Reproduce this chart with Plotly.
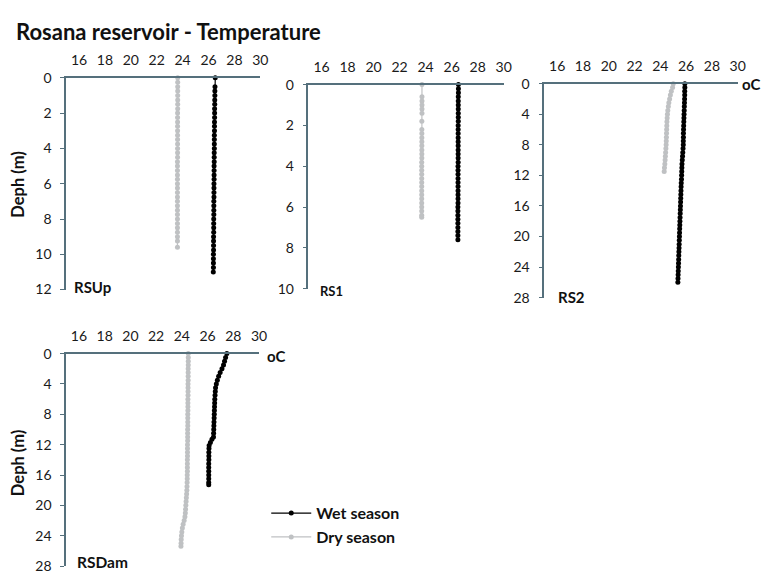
import plotly.graph_objects as go

# ---------------- data ----------------
# RSUp
rsup_wet_depth = [0, 0.5, 0.75, 1.0, 1.25, 1.5, 1.75, 2.0, 2.25, 2.5, 2.75, 3.0, 3.25, 3.5, 3.75,
                  4.0, 4.25, 4.5, 4.75, 5.0, 5.25, 5.5, 5.75, 6.0, 6.25, 6.5, 6.75, 7.0, 7.25, 7.5,
                  7.75, 8.0, 8.25, 8.5, 8.75, 9.0, 9.25, 9.5, 9.75, 10.0, 10.25, 10.5, 10.75, 11.0]
rsup_wet_temp = [26.52, 26.50, 26.49, 26.49, 26.48, 26.48, 26.47, 26.47, 26.47, 26.46, 26.46, 26.46, 26.45, 26.45, 26.45,
                 26.45, 26.44, 26.44, 26.44, 26.43, 26.43, 26.43, 26.43, 26.42, 26.42, 26.42, 26.42, 26.41, 26.41, 26.41,
                 26.41, 26.40, 26.40, 26.40, 26.40, 26.39, 26.39, 26.39, 26.39, 26.38, 26.38, 26.38, 26.38, 26.37]
rsup_dry_depth = [0, 0.25, 0.5, 0.75, 1.0, 1.25, 1.5, 1.75, 2.0, 2.25, 2.5, 2.75, 3.0, 3.25, 3.5,
                  3.75, 4.0, 4.25, 4.5, 4.75, 5.0, 5.25, 5.5, 5.75, 6.0, 6.25, 6.5, 6.75, 7.0, 7.25,
                  7.5, 7.75, 8.0, 8.25, 8.5, 8.75, 9.0, 9.25, 9.6]
rsup_dry_temp = [23.62, 23.62, 23.62, 23.62, 23.62, 23.62, 23.62, 23.62, 23.61, 23.61, 23.61, 23.61, 23.61, 23.61, 23.61,
                 23.61, 23.61, 23.61, 23.61, 23.60, 23.60, 23.60, 23.60, 23.60, 23.60, 23.60, 23.60, 23.60, 23.60, 23.60,
                 23.60, 23.60, 23.60, 23.60, 23.60, 23.60, 23.60, 23.60, 23.60]

# RS1
rs1_wet_depth = [0, 0.2, 0.4, 0.6, 0.8, 1.0, 1.2, 1.4, 1.6, 1.8, 2.0, 2.2, 2.4, 2.6, 2.8,
                 3.0, 3.2, 3.4, 3.6, 3.8, 4.0, 4.2, 4.4, 4.6, 4.8, 5.0, 5.2, 5.4, 5.6, 5.8,
                 6.0, 6.2, 6.4, 6.6, 6.8, 7.0, 7.2, 7.4, 7.6]
rs1_wet_temp = [26.52, 26.52, 26.52, 26.51, 26.51, 26.51, 26.51, 26.51, 26.51, 26.51, 26.50, 26.50, 26.50, 26.50, 26.50,
                26.50, 26.50, 26.50, 26.50, 26.50, 26.49, 26.49, 26.49, 26.49, 26.49, 26.49, 26.49, 26.49, 26.49, 26.49,
                26.48, 26.48, 26.48, 26.48, 26.48, 26.48, 26.48, 26.48, 26.48]
rs1_dry_depth = [0, 0.6, 0.8, 1.0, 1.2, 1.4, 1.8, 2.2, 2.4, 2.6, 2.8, 3.0, 3.2, 3.4, 3.6,
                 3.8, 4.0, 4.2, 4.4, 4.6, 4.8, 5.0, 5.2, 5.4, 5.6, 5.8, 6.0, 6.2, 6.4, 6.5]
rs1_dry_temp = [23.72, 23.72, 23.72, 23.72, 23.72, 23.72, 23.71, 23.71, 23.71, 23.71, 23.71, 23.71, 23.71, 23.71, 23.71,
                23.70, 23.70, 23.70, 23.70, 23.70, 23.70, 23.70, 23.70, 23.70, 23.70, 23.70, 23.70, 23.70, 23.70, 23.70]

# RS2
rs2_wet_depth = [0, 0.5, 1.0, 1.5, 2.0, 2.5, 3.0, 3.5, 4.0, 4.5, 5.0, 5.5, 6.0, 6.5, 7.0,
                 7.5, 8.0, 8.5, 9.0, 9.5, 10.0, 10.5, 11.0, 11.5, 12.0, 12.5, 13.0, 13.5, 14.0, 14.5,
                 15.0, 15.5, 16.0, 16.5, 17.0, 17.5, 18.0, 18.5, 19.0, 19.5, 20.0, 20.5, 21.0, 21.5, 22.0,
                 22.5, 23.0, 23.5, 24.0, 24.5, 25.0, 25.5, 26.0]
rs2_wet_temp = [25.90, 25.90, 25.89, 25.89, 25.88, 25.87, 25.86, 25.85, 25.84, 25.83, 25.82, 25.81, 25.80, 25.79, 25.79,
                25.78, 25.78, 25.76, 25.74, 25.72, 25.70, 25.68, 25.67, 25.66, 25.65, 25.64, 25.62, 25.61, 25.60, 25.59,
                25.58, 25.57, 25.56, 25.55, 25.54, 25.53, 25.52, 25.51, 25.50, 25.49, 25.48, 25.47, 25.46, 25.45, 25.44,
                25.43, 25.42, 25.41, 25.40, 25.39, 25.38, 25.37, 25.36]
rs2_dry_depth = [0, 0.5, 1.0, 1.5, 2.0, 2.5, 3.0, 3.5, 4.0, 4.5, 5.0, 5.5, 6.0, 6.5, 7.0,
                 7.5, 8.0, 8.5, 9.0, 9.5, 10.0, 10.5, 11.0, 11.5]
rs2_dry_temp = [25.00, 24.95, 24.85, 24.78, 24.72, 24.66, 24.62, 24.58, 24.55, 24.53, 24.51, 24.50, 24.49, 24.48, 24.47,
                24.46, 24.45, 24.43, 24.41, 24.39, 24.37, 24.35, 24.32, 24.30]

# RSDam
rsdam_wet_depth = [0, 0.5, 1.0, 1.5, 2.0, 2.5, 3.0, 3.5, 4.0, 4.5, 5.0, 5.5, 6.0, 6.5, 7.0,
                   7.5, 8.0, 8.5, 9.0, 9.5, 10.0, 10.5, 11.0, 11.3, 11.7, 12.1, 12.5, 13.0, 13.5, 14.0,
                   14.5, 15.0, 15.5, 16.0, 16.5, 17.0, 17.3]
rsdam_wet_temp = [27.50, 27.40, 27.32, 27.24, 27.12, 26.98, 26.86, 26.76, 26.68, 26.62, 26.60, 26.58, 26.56, 26.55, 26.54,
                  26.53, 26.52, 26.51, 26.50, 26.49, 26.48, 26.47, 26.46, 26.34, 26.22, 26.12, 26.11, 26.10, 26.10, 26.10,
                  26.09, 26.09, 26.09, 26.09, 26.09, 26.09, 26.09]
rsdam_dry_depth = [0, 0.5, 1.0, 1.5, 2.0, 2.5, 3.0, 3.5, 4.0, 4.5, 5.0, 5.5, 6.0, 6.5, 7.0,
                   7.5, 8.0, 8.5, 9.0, 9.5, 10.0, 10.5, 11.0, 11.5, 12.0, 12.5, 13.0, 13.5, 14.0, 14.5,
                   15.0, 15.5, 16.0, 16.5, 17.0, 17.5, 18.0, 18.5, 19.0, 19.5, 20.0, 20.5, 21.0, 21.5, 22.0,
                   22.5, 23.0, 23.5, 24.0, 24.5, 25.0, 25.4]
rsdam_dry_temp = [24.50, 24.50, 24.50, 24.50, 24.49, 24.49, 24.49, 24.49, 24.48, 24.48, 24.48, 24.48, 24.47, 24.47, 24.47,
                  24.47, 24.46, 24.46, 24.46, 24.46, 24.45, 24.45, 24.45, 24.45, 24.44, 24.44, 24.44, 24.44, 24.43, 24.43,
                  24.43, 24.43, 24.42, 24.42, 24.41, 24.40, 24.39, 24.37, 24.35, 24.33, 24.31, 24.29, 24.27, 24.24, 24.18,
                  24.10, 24.04, 24.00, 23.97, 23.95, 23.94, 23.93]

temp_ticks = [16, 18, 20, 22, 24, 26, 28, 30]
panel_names = ["RSUp", "RS1", "RS2", "RSDam"]
depth_max = [12, 10, 28, 28]
depth_dtick = [2, 2, 4, 4]

# ---------------- styling ----------------
# The page body keeps its default 8px margin, so the figure is 16px smaller
OFF = 8
W, H = 773 - 2 * OFF, 584 - 2 * OFF
FONT = "Lato"
AXIS_COLOR = "#55707c"
TXT = "#111111"
WET = "#000000"
DRY = "#bfc1c3"

def X(px):
    return (px - OFF) / W

def Y(py):
    return 1 - (py - OFF) / H

# panel boxes (left, right, top, bottom) in page pixels
boxes = [
    (66.7, 263.0, 70.7, 289.0),
    (311.7, 509.0, 77.7, 288.0),
    (550.0, 745.5, 76.7, 297.3),
    (66.7, 261.7, 355.0, 574.0),
]
# panel-name label positions (left x, center y) and font sizes
name_pos = [(72.7, 286), (321.7, 290.7), (561.7, 296.7), (76, 570)]
name_size = [15, 13, 15, 15.5]

data = [
    (rsup_wet_depth, rsup_wet_temp, rsup_dry_depth, rsup_dry_temp),
    (rs1_wet_depth, rs1_wet_temp, rs1_dry_depth, rs1_dry_temp),
    (rs2_wet_depth, rs2_wet_temp, rs2_dry_depth, rs2_dry_temp),
    (rsdam_wet_depth, rsdam_wet_temp, rsdam_dry_depth, rsdam_dry_temp),
]
msize = [5, 5, 5, 5]

fig = go.Figure()
layout = dict(
    width=W, height=H,
    margin=dict(l=0, r=0, t=0, b=0),
    paper_bgcolor="white", plot_bgcolor="white",
    font=dict(family=FONT, size=14, color=TXT),
    showlegend=True,
    legend=dict(
        x=X(269), y=Y(502), xanchor="left", yanchor="top",
        bgcolor="rgba(0,0,0,0)",
        font=dict(family=FONT, size=16, color=TXT, weight="bold"),
        itemwidth=40, tracegroupgap=0,
    ),
)

annotations = []
for i in range(4):
    n = "" if i == 0 else str(i + 1)
    xa, ya = "x" + n, "y" + n
    l, r, t, b = boxes[i]
    wd, wt, dd, dt = data[i]
    fig.add_trace(go.Scatter(
        x=wt, y=wd, xaxis=xa, yaxis=ya, mode="lines+markers",
        name="Wet season", showlegend=(i == 0), legendrank=1,
        line=dict(color=WET, width=1.2),
        marker=dict(color=WET, size=msize[i], symbol="circle"),
        cliponaxis=False,
    ))
    fig.add_trace(go.Scatter(
        x=dt, y=dd, xaxis=xa, yaxis=ya, mode="lines+markers",
        name="Dry season", showlegend=(i == 0), legendrank=2,
        line=dict(color=DRY, width=1.2),
        marker=dict(color=DRY, size=msize[i], symbol="circle"),
        cliponaxis=False,
    ))
    layout["xaxis" + n] = dict(
        domain=[X(l), X(r)], anchor=ya, side="top",
        range=[15, 30], tickvals=temp_ticks, ticktext=[str(v) for v in temp_ticks],
        showline=True, linecolor=AXIS_COLOR, linewidth=1.5,
        showgrid=False, zeroline=False, ticks="",
        tickfont=dict(family=FONT, size=14, color="#1a1a1a"),
        ticklabelstandoff=5,
        fixedrange=True,
    )
    layout["yaxis" + n] = dict(
        domain=[Y(b), Y(t)], anchor=xa,
        range=[depth_max[i], 0], dtick=depth_dtick[i], tick0=0,
        showline=True, linecolor=AXIS_COLOR, linewidth=1.5,
        showgrid=False, zeroline=False,
        ticks="outside", ticklen=4, tickcolor=AXIS_COLOR, tickwidth=1.2,
        tickfont=dict(family=FONT, size=14, color="#1a1a1a"),
        ticklabelstandoff=6,
        fixedrange=True,
    )
    nx, ny = name_pos[i]
    annotations.append(dict(
        text=f"<b>{panel_names[i]}</b>", xref="paper", yref="paper",
        x=X(nx), y=Y(ny), xanchor="left", yanchor="middle",
        showarrow=False, font=dict(family=FONT, size=name_size[i], color=TXT),
    ))

# title
annotations.append(dict(
    text="<b>Rosana reservoir - Temperature</b>", xref="paper", yref="paper",
    x=X(14), y=Y(22.5), xanchor="left", yanchor="middle", showarrow=False,
    font=dict(family=FONT, size=22, color=TXT),
))
# y-axis titles
for yc in (181, 468):
    annotations.append(dict(
        text="<b>Deph (m)</b>", xref="paper", yref="paper",
        x=X(18), y=Y(yc), xanchor="center", yanchor="middle", textangle=-90,
        showarrow=False, font=dict(family=FONT, size=16.5, color=TXT),
    ))
# unit labels
for (ux, uy) in ((748, 77), (268, 357)):
    annotations.append(dict(
        text="<b>oC</b>", xref="paper", yref="paper",
        x=X(ux), y=Y(uy), xanchor="left", yanchor="middle",
        showarrow=False, font=dict(family=FONT, size=15, color=TXT),
    ))

layout["annotations"] = annotations
fig.update_layout(**layout)
fig.write_html("out.html")
